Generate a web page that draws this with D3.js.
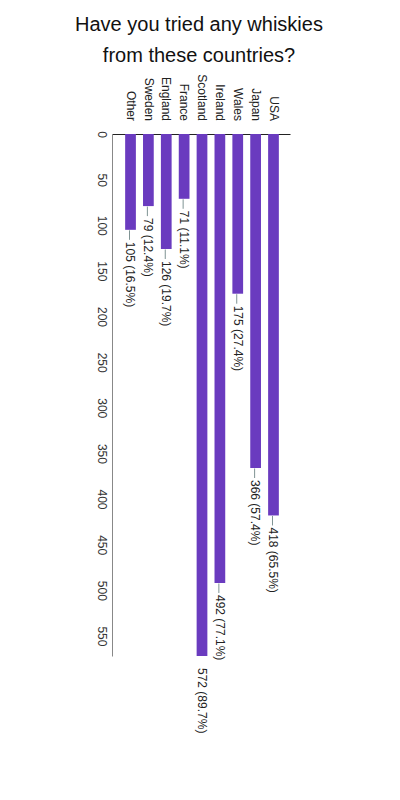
<!DOCTYPE html>
<html>
<head>
<meta charset="utf-8">
<script src="https://cdn.jsdelivr.net/npm/d3@7"></script>
<style>
  html, body { margin: 0; padding: 0; background: #fff; }
  svg { display: block; overflow: visible; }
  text { font-family: "Liberation Sans", Arial, Helvetica, sans-serif; }
</style>
</head>
<body>
<script>
const titleLines = ["Have you tried any whiskies", "from these countries?"];
const categories = ["USA", "Japan", "Wales", "Ireland", "Scotland", "France", "England", "Sweden", "Other"];
const values = [418, 366, 175, 492, 572, 71, 126, 79, 105];
const percents = [65.5, 57.4, 27.4, 77.1, 89.7, 11.1, 19.7, 12.4, 16.5];
const tickValues = [0, 50, 100, 150, 200, 250, 300, 350, 400, 450, 500, 550];

const data = categories.map((c, i) => ({ cat: c, value: values[i], pct: percents[i] }));
const maxV = d3.max(values);

// Title
const tsvg = d3.select("body").append("svg").attr("width", 400).attr("height", 78);
tsvg.selectAll("text").data(titleLines).join("text")
  .attr("x", 199).attr("y", (d, i) => 30.5 + i * 31)
  .attr("text-anchor", "middle")
  .attr("font-size", 20)
  .attr("fill", "#111")
  .text(d => d);

// Chart (horizontal bar chart rotated 90deg clockwise)
const svg = d3.select("body").append("svg").attr("width", 400).attr("height", 722);
const W = 522, H = 178;
const g = svg.append("g").attr("transform", "translate(291,56) rotate(90)");

const x = d3.scaleLinear().domain([0, maxV]).range([0, W]);
const y = d3.scaleBand().domain(categories).range([0, H]).paddingInner(0.4).paddingOuter(0.68);

// category axis (original left axis -> top)
const yAxis = g.append("g").call(d3.axisLeft(y).tickSize(0).tickPadding(13));
yAxis.select(".domain").attr("stroke", "#222");
yAxis.selectAll("text").attr("font-size", 12).attr("fill", "#222");

// value axis (original bottom -> left)
const xAxis = g.append("g").attr("transform", `translate(0,${H})`)
  .call(d3.axisBottom(x).tickValues(tickValues).tickSize(0).tickSizeOuter(0).tickPadding(6));
xAxis.select(".domain").attr("stroke", "#888");
xAxis.selectAll("text").attr("font-size", 12).attr("fill", "#333");

// bars
g.selectAll("rect.bar").data(data).join("rect")
  .attr("class", "bar")
  .attr("x", 0)
  .attr("y", d => y(d.cat))
  .attr("width", d => x(d.value))
  .attr("height", y.bandwidth())
  .attr("fill", "#6a3bbf");

// leader lines
g.selectAll("line.lead").data(data.filter(d => d.value !== maxV)).join("line")
  .attr("class", "lead")
  .attr("x1", d => x(d.value) + 0.5)
  .attr("x2", d => x(d.value) + 10)
  .attr("y1", d => y(d.cat) + y.bandwidth() / 2 + 1)
  .attr("y2", d => y(d.cat) + y.bandwidth() / 2 + 1)
  .attr("stroke", "#7f9393")
  .attr("stroke-width", 1);

// value labels
g.selectAll("text.val").data(data).join("text")
  .attr("class", "val")
  .attr("x", d => x(d.value) + 12)
  .attr("y", d => y(d.cat) + y.bandwidth() / 2)
  .attr("dy", "0.35em")
  .attr("font-size", 12)
  .attr("fill", "#222")
  .text(d => `${d.value} (${d.pct}%)`);
</script>
</body>
</html>
